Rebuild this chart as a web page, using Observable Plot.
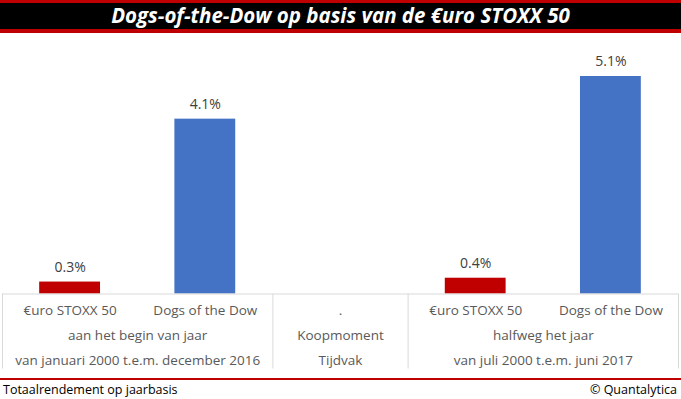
<!DOCTYPE html>
<html>
<head>
<meta charset="utf-8">
<script src="https://cdn.jsdelivr.net/npm/d3@7"></script>
<script src="https://cdn.jsdelivr.net/npm/@observablehq/plot@0.6"></script>
<style>
  html, body { margin: 0; padding: 0; background: #fff; }
  #wrap { width: 681px; height: 399px; position: relative; overflow: hidden; font-family: "Open Sans", sans-serif; }
  #title { box-sizing: border-box; height: 33px; background: #000; border-top: 3px solid #c00000; border-bottom: 4px solid #c00000;
           color: #fff; font-weight: bold; font-style: italic; font-size: 20.5px; text-align: center; line-height: 25px; }
  #chart svg { display: block; }
  #footer { box-sizing: border-box; border-top: 2px solid #c00000; height: 21px; display: flex; justify-content: space-between;
            align-items: center; font-size: 12.5px; color: #000; padding: 0 4px 0 3px; }
</style>
</head>
<body>
<div id="wrap">
  <div id="title">Dogs-of-the-Dow op basis van de €uro STOXX 50</div>
  <div id="chart"></div>
  <div id="footer"><span>Totaalrendement op jaarbasis</span><span>© Quantalytica</span></div>
</div>
<script>
// Data
const categories = ["€uro STOXX 50", "Dogs of the Dow", ".", "€uro STOXX 50", "Dogs of the Dow"];
const values = [0.28, 4.1, null, 0.37, 5.1];
const seriesColors = ["#c00000", "#4472c4", null, "#c00000", "#4472c4"];
const groupLabels = ["aan het begin van jaar", "Koopmoment", "halfweg het jaar"];
const periodLabels = ["van januari 2000 t.e.m. december 2016", "Tijdvak", "van juli 2000 t.e.m. juni 2017"];
const groupFirst = [0, 2, 3];
const groupLast = [1, 2, 4];

const bars = categories.map((c, i) => ({i, cat: c, value: values[i], color: seriesColors[i]})).filter(d => d.value != null);
const groups = groupLabels.map((g, k) => ({k, label: g, period: periodLabels[k], first: groupFirst[k], last: groupLast[k]}));
const boundaries = [groupFirst[0] - 0.5, ...groupLast.map(l => l + 0.5)];
const half = 0.225;

const chart = Plot.plot({
  width: 681,
  height: 345,
  marginTop: 43,
  marginBottom: 84.5,
  marginLeft: 2,
  marginRight: 3,
  style: {fontFamily: "Open Sans, sans-serif", fontSize: "13.5px", background: "transparent"},
  x: {domain: [-0.5, categories.length - 0.5], axis: null},
  y: {domain: [0, 5.1], axis: null},
  marks: [
    Plot.rectY(bars, {x1: d => d.i - half, x2: d => d.i + half, y: "value", fill: "color"}),
    Plot.ruleY([0], {stroke: "#d9d9d9", strokeWidth: 1}),
    Plot.ruleX(boundaries, {x: d => d, y1: () => 0, y2: () => 0, insetTop: 0, insetBottom: -75, stroke: "#d9d9d9", strokeWidth: 1}),
    Plot.text(bars, {x: "i", y: "value", text: d => d3.format(".1f")(d.value) + "%", dy: -15, fill: "#404040", fontSize: 14}),
    Plot.text(categories, {x: (d, i) => i, y: () => 0, text: d => d, dy: 17, fill: "#595959", fontSize: 13.5}),
    Plot.text(groups, {x: d => (d.first + d.last) / 2, y: () => 0, text: "label", dy: 41.5, fill: "#595959", fontSize: 13.5}),
    Plot.text(groups, {x: d => (d.first + d.last) / 2, y: () => 0, text: "period", dy: 66.5, fill: "#595959", fontSize: 13.5})
  ]
});
document.getElementById("chart").appendChild(chart);
</script>
</body>
</html>
